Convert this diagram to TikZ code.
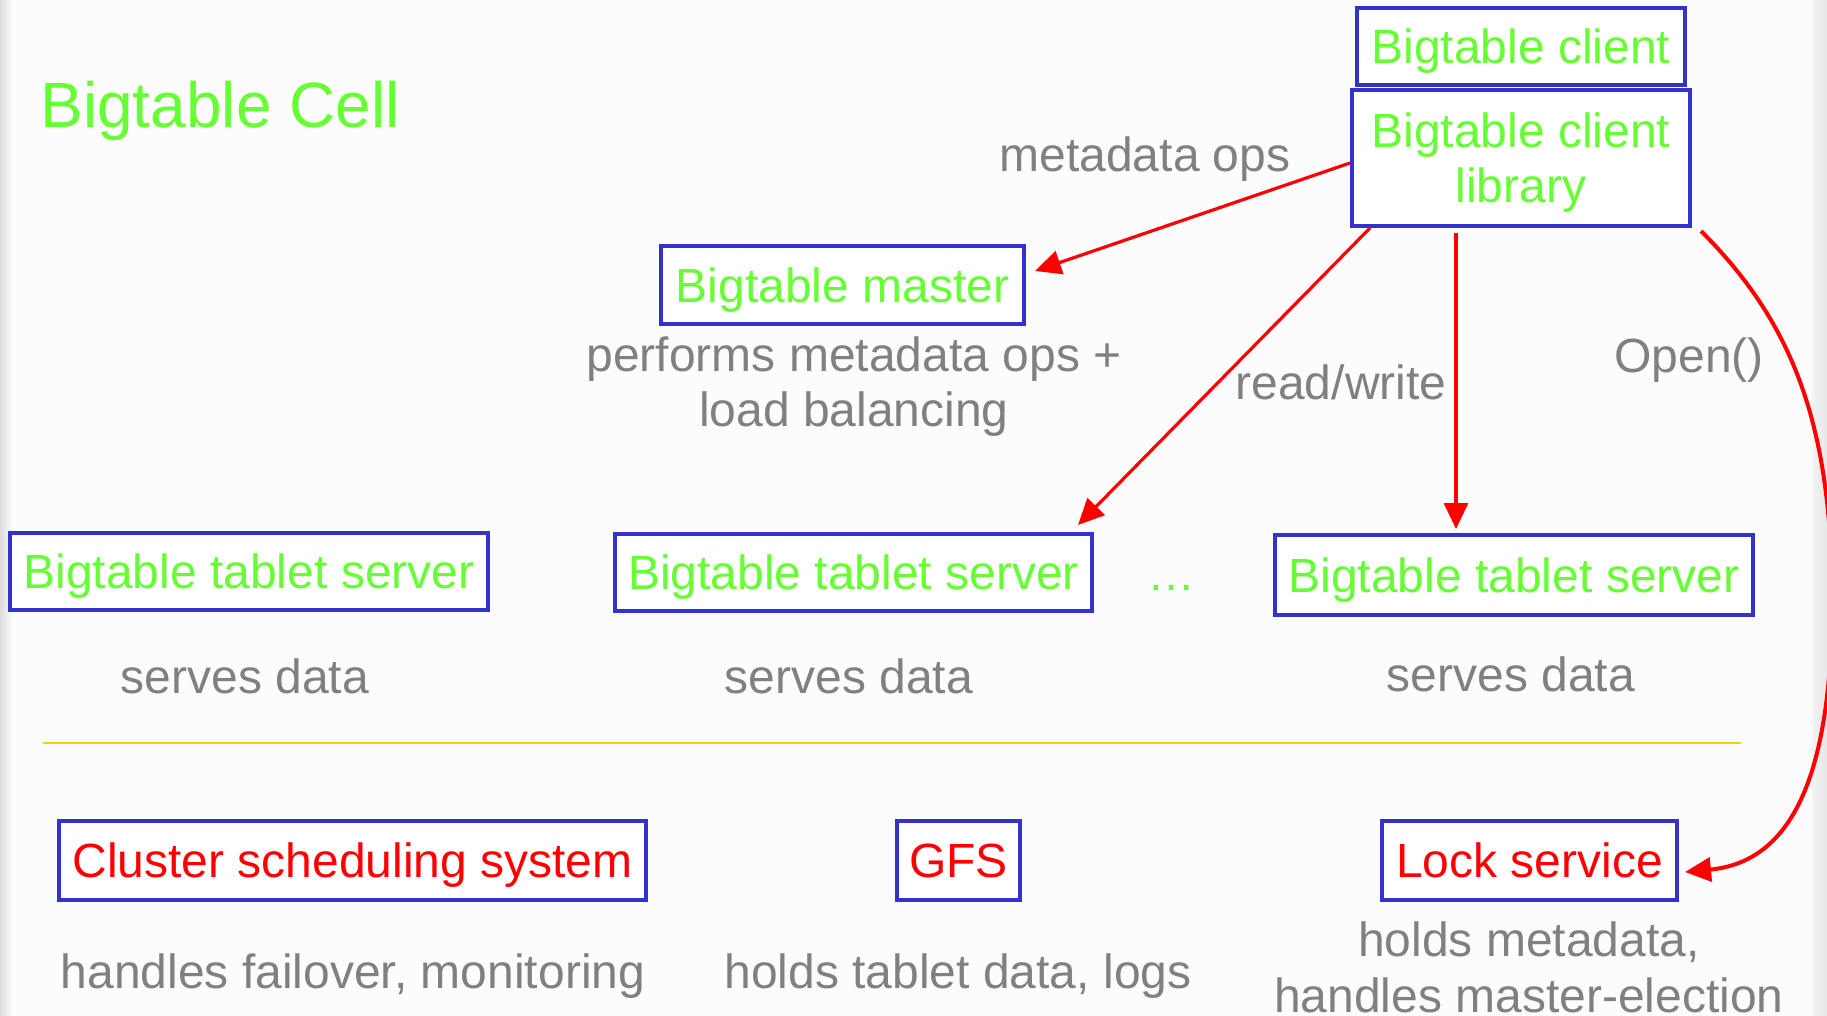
\documentclass[tikz,border=0pt]{standalone}
\usepackage{fontspec}
\setmainfont{Liberation Sans}
\usetikzlibrary{arrows.meta,calc}
\definecolor{cellgreen}{HTML}{66FF33}
\definecolor{boxblue}{HTML}{3333CC}
\definecolor{flowred}{HTML}{FF0000}
\definecolor{notegray}{HTML}{808080}
\definecolor{ruleyellow}{HTML}{FFCC00}
\definecolor{slidebg}{HTML}{FCFCFC}

\begin{document}
\begin{tikzpicture}[
  x=0.5pt, y=-0.5pt,
  compbox/.style={draw=boxblue, line width=2pt, fill=white, inner sep=0pt,
    font=\fontsize{24}{27.5}\selectfont, text height=23.2pt, text depth=6pt,
    minimum height=38.5pt, text=cellgreen},
  svcbox/.style={compbox, text=flowred, minimum height=39.5pt},
  note/.style={font=\fontsize{24}{28}\selectfont, text=notegray, inner sep=0pt,
    anchor=base, align=center},
  flow/.style={draw=flowred, line width=1.6pt, -{Triangle[length=13pt, width=12pt]}},
]
  \useasboundingbox (0,0) rectangle (1827,1016);
  \fill[slidebg] (0,0) rectangle (1827,1016);
  \shade[left color=black!14, right color=slidebg] (0,0) rectangle (12,1016);
  \shade[left color=black!5, right color=black!9] (1812,0) rectangle (1827,1016);

  % Title
  \node[font=\fontsize{32}{36}\selectfont, text=cellgreen, inner sep=0pt,
        anchor=base west] (title) at (40,128) {Bigtable Cell};

  % Client side
  \node[compbox, minimum width=164pt] (client) at (1521,46.5) {Bigtable client};
  \node[compbox, minimum width=169pt, minimum height=68pt, align=center,
        text height=50.7pt] (lib) at (1521,158) {Bigtable client\\library};

  % Master
  \node[compbox, minimum width=181.5pt, minimum height=39pt] (master) at (842.5,285) {Bigtable master};
  \node[note] (masternote) at (854,427) {performs metadata ops +\\load balancing};

  % Tablet servers
  \node[compbox, minimum width=239pt] (ts1) at (249,571.5) {Bigtable tablet server};
  \node[compbox, minimum width=238.5pt] (ts2) at (853.5,572.5) {Bigtable tablet server};
  \node[compbox, minimum width=239pt, minimum height=40pt] (ts3) at (1514,575) {Bigtable tablet server};
  \node[note, text=cellgreen] (dots) at (1171,590) {…};
  \node[note] (ts1note) at (245,693) {serves data};
  \node[note] (ts2note) at (849,693) {serves data};
  \node[note] (ts3note) at (1511,691) {serves data};

  % Divider
  \draw[ruleyellow, line width=1pt] (43,743) -- (1741,743);

  % Shared services
  \node[svcbox, minimum width=293.5pt] (sched) at (352.5,860.5) {Cluster scheduling system};
  \node[svcbox, minimum width=61.5pt] (gfs) at (958.5,860.5) {GFS};
  \node[svcbox, minimum width=147.5pt] (lock) at (1529.5,860.5) {Lock service};
  \node[note] (schednote) at (353,988) {handles failover, monitoring};
  \node[note] (gfsnote) at (958,988) {holds tablet data, logs};
  \node[note] (locknote) at (1529,1012) {holds metadata,\\handles master-election};

  % Edge labels
  \node[note] (metalab) at (1145,172) {metadata ops};
  \node[note] (rwlab) at (1341,400) {read/write};
  \node[note] (openlab) at (1689,372) {Open()};

  % Edges
  \draw[flow] ($(lib.west)+(0,5)$) -- ($(master.east)+(9,-14)$);
  \draw[flow] ($(lib.south west)+(20,0)$) -- ($(ts2.north east)+(-16,-7)$);
  \draw[flow] ($(lib.south)+(-65,5)$) -- ($(ts3.north)+(-58,-4)$);
  \draw[flow, line width=2pt] ($(lib.south east)+(9,3)$)
    .. controls (1790,320) and (1832,420) .. (1832,600)
    .. controls (1832,780) and (1790,862) .. ($(lock.east)+(6,11.5)$);
\end{tikzpicture}
\end{document}
